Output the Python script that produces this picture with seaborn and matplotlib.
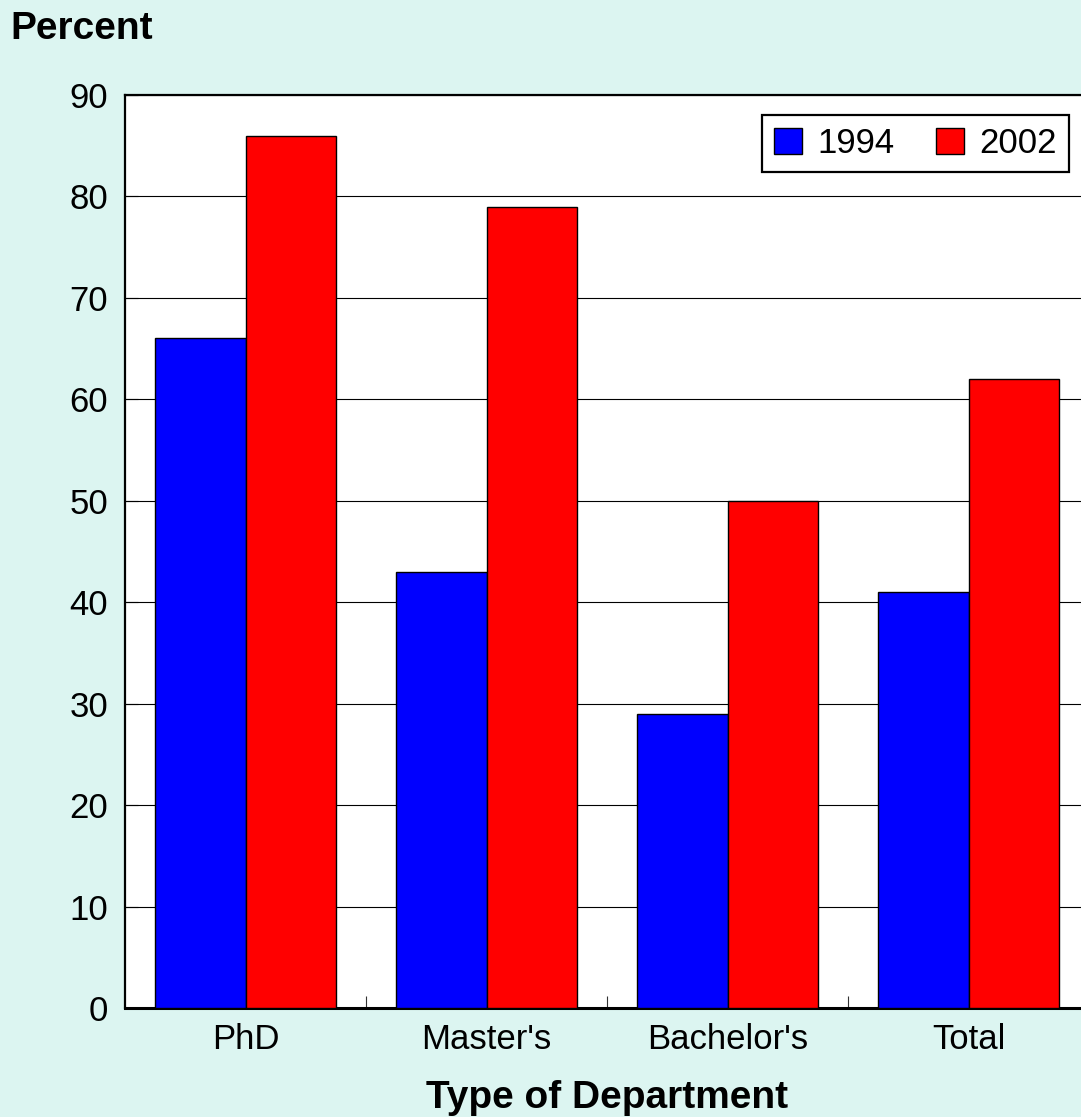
import matplotlib
matplotlib.use('Agg')
import matplotlib.pyplot as plt
import seaborn as sns
import pandas as pd
from matplotlib.ticker import FixedLocator

# ─────────────────────────────────────────────
# Data
# ─────────────────────────────────────────────
departments = ["PhD", "Master's", "Bachelor's", "Total"]
years = ["1994", "2002"]
pct_1994 = [66, 43, 29, 41]
pct_2002 = [86, 79, 50, 62]
y_ticks = [0, 10, 20, 30, 40, 50, 60, 70, 80, 90]

BG = '#DCF5F1'
colors = {'1994': '#0000FF', '2002': '#FF0000'}

df = pd.DataFrame({
    'Department': departments * 2,
    'Year': [years[0]] * len(departments) + [years[1]] * len(departments),
    'Percent': pct_1994 + pct_2002,
})

sns.set_style('white')
plt.rcParams['font.family'] = ['Liberation Sans', 'DejaVu Sans']
plt.rcParams['text.color'] = 'black'
plt.rcParams['axes.labelcolor'] = 'black'
plt.rcParams['xtick.color'] = 'black'
plt.rcParams['ytick.color'] = 'black'

fig = plt.figure(figsize=(10.81, 11.17), dpi=100, facecolor=BG)
W, H = 1081, 1117
# axes right edge runs past the picture edge, as in the original
ax = fig.add_axes([125 / W, 1 - 1008 / H, (1089 - 125) / W, (1008 - 95) / H])
ax.set_facecolor('white')

sns.barplot(data=df, x='Department', y='Percent', hue='Year',
            palette=colors, saturation=1, width=0.75,
            edgecolor='black', linewidth=1, ax=ax, zorder=3)

ax.set_xlim(-0.5, 3.5)
ax.set_ylim(0, 90)
ax.set_yticks(y_ticks)
ax.yaxis.grid(True, color='black', linewidth=0.8, zorder=0)
ax.set_axisbelow(True)

for side in ['left', 'top', 'bottom']:
    ax.spines[side].set_visible(True)
    ax.spines[side].set_color('black')
    ax.spines[side].set_linewidth(1.6)
ax.spines['bottom'].set_linewidth(2.2)
ax.spines['right'].set_visible(False)

ax.tick_params(axis='y', direction='in', length=9, width=0.8, pad=12,
               labelsize=25, left=True)
ax.tick_params(axis='x', which='major', length=0, pad=11, labelsize=25)
ax.xaxis.set_minor_locator(FixedLocator([0.5, 1.5, 2.5]))
ax.tick_params(axis='x', which='minor', direction='in', length=9,
               width=0.8, bottom=True, color='#333333')

ax.set_xlabel('Type of Department', fontsize=28, fontweight='bold', labelpad=17)
ax.set_ylabel('')
fig.text(10 / W, 1 - 29 / H, 'Percent', fontsize=28, fontweight='bold',
         ha='left', va='center')

handles, labels = ax.get_legend_handles_labels()
leg = ax.legend(handles, labels, ncol=2, loc='upper right',
                bbox_to_anchor=(1069 / W, 1 - 115 / H),
                bbox_transform=fig.transFigure,
                fontsize=25, frameon=True, fancybox=False, framealpha=1,
                edgecolor='black', handlelength=0.8, handleheight=0.8,
                handletextpad=0.45, columnspacing=1.2, borderpad=0.35,
                borderaxespad=0)
leg.get_frame().set_linewidth(1.6)
leg.set_zorder(5)

fig.savefig('out.png', dpi=100, facecolor=BG)
